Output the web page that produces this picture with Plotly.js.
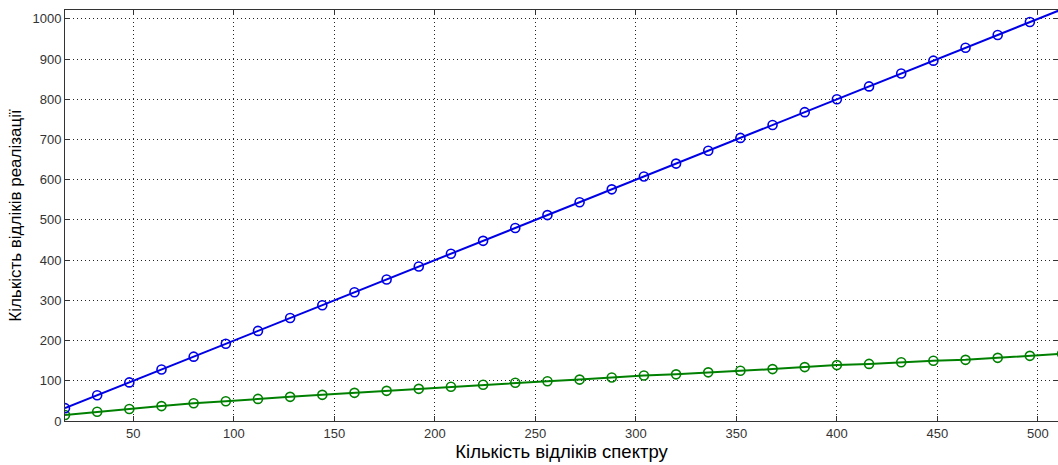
<!DOCTYPE html>
<html>
<head>
<meta charset="utf-8">
<script src="https://cdn.plot.ly/plotly-3.0.1.min.js"></script>
<style>html,body{margin:0;padding:0;overflow:hidden;background:#fff}#chart{width:1058px;height:465px}</style>
</head>
<body>
<div id="chart"></div>
<script>
const xSpectrum = [16,32,48,64,80,96,112,128,144,160,176,192,208,224,240,256,272,288,304,320,336,352,368,384,400,416,432,448,464,480,496,512];
const blueValues = [32,64,96,128,160,192,224,256,288,320,352,384,416,448,480,512,544,576,608,640,672,704,736,768,800,832,864,896,928,960,992,1024];
const greenValues = [15,23,30,37,44,49,55,60,65,70,75,80,85,90,95,99,103,108,113,116,121,125,129,134,139,142,146,150,152,157,162,167];
const xTicks = [50,100,150,200,250,300,350,400,450,500];
const yTicks = [0,100,200,300,400,500,600,700,800,900,1000];
const xTitle = 'Кількість відліків спектру';
const yTitle = 'Кількість відліків реалізації';

const mk = (y, color) => ({
  x: xSpectrum, y: y, type: 'scatter', mode: 'lines+markers',
  line: {color: color, width: 2},
  marker: {symbol: 'circle-open', size: 9, color: color, line: {width: 1.6, color: color}},
  cliponaxis: true, showlegend: false, hoverinfo: 'skip'
});

const axisCommon = {
  showline: true, linecolor: '#333', linewidth: 1, mirror: 'ticks',
  ticks: 'inside', ticklen: 5, tickcolor: '#333', tickwidth: 1,
  showgrid: true, gridcolor: '#222', griddash: '1px,3px', gridwidth: 1,
  zeroline: false, tickfont: {family: 'Liberation Sans, Arial, sans-serif', size: 13, color: '#333'}
};

const layout = {
  width: 1058, height: 465,
  margin: {l: 65, r: 0, t: 10, b: 44},
  paper_bgcolor: '#fff', plot_bgcolor: '#fff',
  xaxis: Object.assign({}, axisCommon, {
    range: [16, 510], tickmode: 'array', tickvals: xTicks, ticktext: xTicks.map(String),
    title: {text: xTitle, standoff: 3, font: {family: 'Liberation Sans, Arial, sans-serif', size: 18.5, color: '#000'}}
  }),
  yaxis: Object.assign({}, axisCommon, {
    range: [0, 1022], tickmode: 'array', tickvals: yTicks, ticktext: yTicks.map(String),
    title: {text: yTitle, standoff: 6, font: {family: 'Liberation Sans, Arial, sans-serif', size: 17, color: '#000'}}
  })
};

Plotly.newPlot('chart', [mk(greenValues, 'rgb(0,128,0)'), mk(blueValues, 'rgb(0,0,230)')], layout, {staticPlot: true, displayModeBar: false});
</script>
</body>
</html>
